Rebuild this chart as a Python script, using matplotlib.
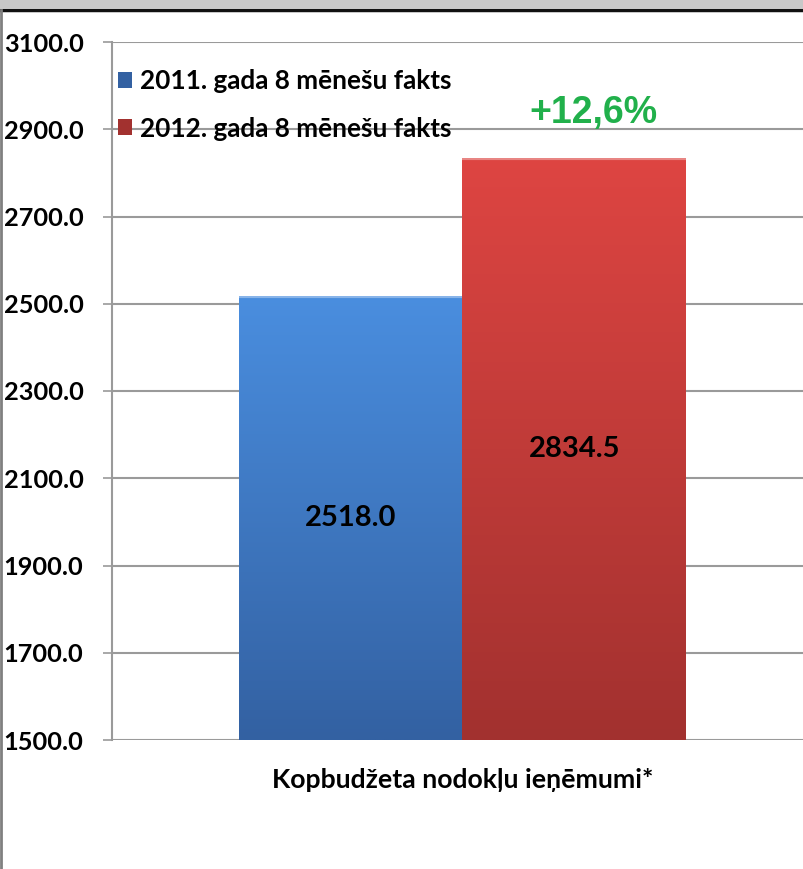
import numpy as np
import matplotlib
matplotlib.use("Agg")
import matplotlib.pyplot as plt
from matplotlib.patches import Rectangle
from matplotlib.lines import Line2D
from matplotlib.colors import LinearSegmentedColormap

category = "Kopbudžeta nodokļu ieņēmumi*"
series_names = ["2011. gada 8 mēnešu fakts", "2012. gada 8 mēnešu fakts"]
values = [2518.0, 2834.5]
change_label = "+12,6%"
y_ticks = [1500.0, 1700.0, 1900.0, 2100.0, 2300.0, 2500.0, 2700.0, 2900.0, 3100.0]

W, H = 804, 869
fig = plt.figure(figsize=(W / 100, H / 100), dpi=100)
fig.patch.set_facecolor("white")

def px_x(x):
    return x / W

def px_y(y):
    return 1 - y / H

ax_left, ax_right, ax_top, ax_bottom = 112, 804, 42, 740
ax = fig.add_axes([px_x(ax_left), px_y(ax_bottom), (ax_right - ax_left) / W,
                   (ax_bottom - ax_top) / H])
ax.set_facecolor("none")

bar_w = 1.0
offsets = [-0.5, 0.5]
tops = [("#4a8edf", "#3361a2"), ("#de4542", "#a2312f")]
for i, (v, off) in enumerate(zip(values, offsets)):
    b = ax.bar(off, v - y_ticks[0], bottom=y_ticks[0], width=bar_w,
               color=tops[i][1], edgecolor="none", zorder=2,
               label=series_names[i])
    rect = b.patches[0]
    cmap = LinearSegmentedColormap.from_list("g%d" % i, [tops[i][1], tops[i][0]])
    grad = np.linspace(0, 1, 256).reshape(-1, 1)
    im = ax.imshow(grad, cmap=cmap, aspect="auto", origin="lower",
                   extent=[off - bar_w / 2, off + bar_w / 2, y_ticks[0], v],
                   zorder=3)
    im.set_clip_path(rect)
    ax.plot([off - bar_w / 2, off + bar_w / 2], [v, v], color="white",
            alpha=0.35, lw=3, zorder=4, solid_capstyle="butt")
    ax.text(off, (y_ticks[0] + v) / 2, f"{v:.1f}", ha="center", va="center",
            fontsize=21, fontweight="bold", family="Lato", color="black",
            zorder=5)

center_px = (239 + 686) / 2
unit_px = (686 - 239) / 2
ax.set_xlim((ax_left - center_px) / unit_px, (ax_right - center_px) / unit_px)
ax.set_ylim(y_ticks[0], y_ticks[-1])
ax.set_yticks(y_ticks)
ax.set_yticklabels([f"{t:.1f}" for t in y_ticks], family="Lato",
                   fontweight="bold", fontsize=18.3)
ax.set_xticks([0])
ax.set_xticklabels([category], family="Lato", fontsize=19.2, fontweight="bold")
ax.tick_params(axis="x", length=0, pad=20)
ax.tick_params(axis="y", length=6.5, color="#9a9a9a", width=1.2, pad=14)

ax.grid(axis="y", color="#9a9a9a", lw=1.5, zorder=0)
ax.set_axisbelow(True)
for s in ["top", "right", "bottom"]:
    ax.spines[s].set_visible(False)
ax.spines["left"].set_color("#9a9a9a")
ax.spines["left"].set_linewidth(1.5)

leg = ax.legend(loc="upper left", bbox_to_anchor=(-0.01, 0.98), frameon=False,
                prop={"family": "Lato", "weight": "bold", "size": 18.8},
                handlelength=0.55, handleheight=0.55, handletextpad=0.3,
                labelspacing=0.9, borderaxespad=0.1)

ax.text(593 / W, px_y(113), change_label, transform=fig.transFigure,
        ha="center", va="center", fontsize=27, fontweight="bold",
        family="Liberation Sans", color="#21b04b", zorder=6)

fig.add_artist(Rectangle((0, px_y(8)), 1, 8 / H, transform=fig.transFigure,
                         facecolor="#c8c8c8", edgecolor="none"))
fig.add_artist(Line2D([0, 1], [px_y(10), px_y(10)], transform=fig.transFigure,
                      color="#111111", lw=2.5))
fig.add_artist(Line2D([1 / W, 1 / W], [0, px_y(10)], transform=fig.transFigure,
                      color="#808080", lw=2))

fig.savefig("out.png", dpi=100)
